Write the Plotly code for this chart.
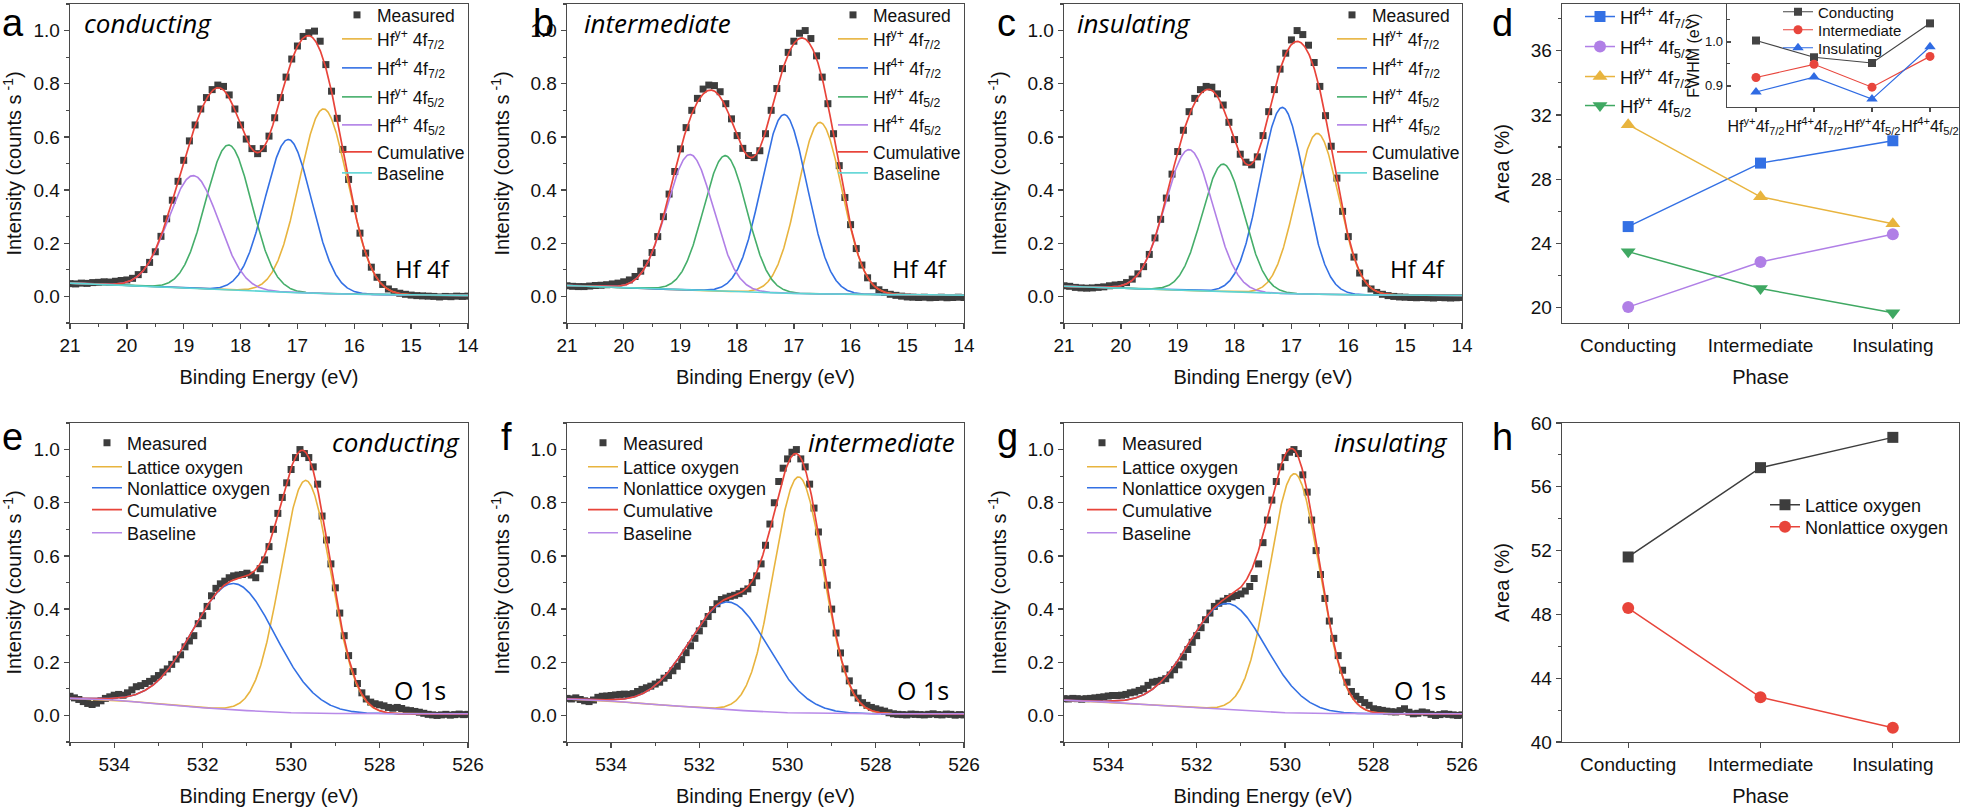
import numpy as np
import plotly.graph_objects as go

W, H = 1962, 808
FONT = "Arial, Liberation Sans, Helvetica, sans-serif"
AFONT = "Open Sans, Noto Sans, sans-serif"
AXC = "#4a4a4a"
TXT = "#111111"

# ------------------------------------------------------------------ data
hf_e = [21.0, 20.9, 20.8, 20.7, 20.6, 20.5, 20.4, 20.3, 20.2, 20.1,
        20.0, 19.9, 19.8, 19.7, 19.6, 19.5, 19.4, 19.3, 19.2, 19.1,
        19.0, 18.9, 18.8, 18.7, 18.6, 18.5, 18.4, 18.3, 18.2, 18.1,
        18.0, 17.9, 17.8, 17.7, 17.6, 17.5, 17.4, 17.3, 17.2, 17.1,
        17.0, 16.9, 16.8, 16.7, 16.6, 16.5, 16.4, 16.3, 16.2, 16.1,
        16.0, 15.9, 15.8, 15.7, 15.6, 15.5, 15.4, 15.3, 15.2, 15.1,
        15.0, 14.9, 14.8, 14.7, 14.6, 14.5, 14.4, 14.3, 14.2, 14.1, 14.0]

hf_meas_conducting = [
    0.048, 0.047, 0.050, 0.049, 0.052, 0.053, 0.055, 0.054, 0.057, 0.060,
    0.062, 0.068, 0.082, 0.101, 0.128, 0.168, 0.226, 0.292, 0.362, 0.433,
    0.512, 0.585, 0.645, 0.705, 0.748, 0.778, 0.795, 0.790, 0.758, 0.705,
    0.645, 0.592, 0.556, 0.537, 0.556, 0.603, 0.672, 0.748, 0.825, 0.893,
    0.942, 0.978, 0.992, 0.998, 0.960, 0.872, 0.772, 0.670, 0.553, 0.440,
    0.330, 0.238, 0.163, 0.110, 0.072, 0.045, 0.028, 0.018, 0.012, 0.008,
    0.005, 0.003, 0.002, 0.001, 0.000, -0.002, 0.000, -0.001, 0.001, 0.000, 0.001]
hf_meas_intermediate = [
    0.040, 0.038, 0.037, 0.037, 0.039, 0.041, 0.042, 0.044, 0.047, 0.050,
    0.055, 0.062, 0.075, 0.095, 0.125, 0.165, 0.225, 0.300, 0.385, 0.470,
    0.555, 0.635, 0.700, 0.745, 0.780, 0.795, 0.793, 0.770, 0.725, 0.668,
    0.605, 0.557, 0.530, 0.522, 0.548, 0.612, 0.700, 0.782, 0.857, 0.918,
    0.960, 0.990, 1.000, 0.970, 0.905, 0.825, 0.725, 0.612, 0.492, 0.372,
    0.270, 0.180, 0.118, 0.070, 0.040, 0.025, 0.015, 0.008, 0.004, 0.001,
    -0.002, -0.003, -0.004, -0.003, -0.005, -0.004, -0.003, -0.005, -0.004, -0.003, -0.004]
hf_meas_insulating = [
    0.040, 0.038, 0.034, 0.032, 0.031, 0.032, 0.034, 0.036, 0.040, 0.043,
    0.045, 0.052, 0.065, 0.085, 0.112, 0.158, 0.220, 0.290, 0.370, 0.460,
    0.545, 0.625, 0.695, 0.745, 0.778, 0.790, 0.787, 0.762, 0.720, 0.655,
    0.590, 0.535, 0.505, 0.495, 0.525, 0.605, 0.695, 0.778, 0.855, 0.915,
    0.965, 1.000, 0.985, 0.945, 0.880, 0.790, 0.680, 0.565, 0.445, 0.320,
    0.225, 0.148, 0.088, 0.050, 0.028, 0.015, 0.008, 0.003, 0.000, -0.002,
    -0.003, -0.004, -0.005, -0.004, -0.005, -0.006, -0.004, -0.005, -0.006, -0.005, -0.004]

# fitted Hf 4f components: order Hf^y+ 4f7/2, Hf^4+ 4f7/2, Hf^y+ 4f5/2, Hf^4+ 4f5/2
hf_comp_names = ["Hf<sup>y+</sup> 4f<sub>7/2</sub>", "Hf<sup>4+</sup> 4f<sub>7/2</sub>",
                 "Hf<sup>y+</sup> 4f<sub>5/2</sub>", "Hf<sup>4+</sup> 4f<sub>5/2</sub>"]
hf_center_conducting = [16.54, 17.16, 18.21, 18.83]
hf_center_intermediate = [16.54, 17.17, 18.21, 18.83]
hf_center_insulating = [16.545, 17.16, 18.20, 18.80]
hf_height_conducting = [0.694, 0.575, 0.545, 0.425]
hf_height_intermediate = [0.645, 0.672, 0.51, 0.51]
hf_height_insulating = [0.605, 0.70, 0.48, 0.53]
hf_base_e = [21, 20, 19, 18, 17, 16, 15, 14]
hf_base_conducting = [0.050, 0.041, 0.031, 0.023, 0.014, 0.008, 0.005, 0.004]
hf_base_intermediate = [0.041, 0.033, 0.025, 0.018, 0.011, 0.008, 0.006, 0.005]
hf_base_insulating = [0.038, 0.031, 0.024, 0.016, 0.010, 0.006, 0.005, 0.004]

# FWHM (eV) of each Hf 4f component (inset of panel d)
fwhm_peaks = ["Hf<sup>y+</sup>4f<sub>7/2</sub>", "Hf<sup>4+</sup>4f<sub>7/2</sub>",
              "Hf<sup>y+</sup>4f<sub>5/2</sub>", "Hf<sup>4+</sup>4f<sub>5/2</sub>"]
fwhm_conducting = [1.003, 0.965, 0.952, 1.042]
fwhm_intermediate = [0.919, 0.949, 0.897, 0.967]
fwhm_insulating = [0.886, 0.920, 0.870, 0.989]

# Hf 4f component areas (panel d)
phases = ["Conducting", "Intermediate", "Insulating"]
area_hf4_72 = [25.05, 29.0, 30.39]
area_hf4_52 = [20.04, 22.85, 24.57]
area_hfy_72 = [31.39, 26.9, 25.23]
area_hfy_52 = [23.49, 21.2, 19.69]

o_e = [535.0, 534.9, 534.8, 534.7, 534.6, 534.5, 534.4, 534.3, 534.2, 534.1,
       534.0, 533.9, 533.8, 533.7, 533.6, 533.5, 533.4, 533.3, 533.2, 533.1,
       533.0, 532.9, 532.8, 532.7, 532.6, 532.5, 532.4, 532.3, 532.2, 532.1,
       532.0, 531.9, 531.8, 531.7, 531.6, 531.5, 531.4, 531.3, 531.2, 531.1,
       531.0, 530.9, 530.8, 530.7, 530.6, 530.5, 530.4, 530.3, 530.2, 530.1,
       530.0, 529.9, 529.8, 529.7, 529.6, 529.5, 529.4, 529.3, 529.2, 529.1,
       529.0, 528.9, 528.8, 528.7, 528.6, 528.5, 528.4, 528.3, 528.2, 528.1,
       528.0, 527.9, 527.8, 527.7, 527.6, 527.5, 527.4, 527.3, 527.2, 527.1,
       527.0, 526.9, 526.8, 526.7, 526.6, 526.5, 526.4, 526.3, 526.2, 526.1, 526.0]

o_meas_conducting = [
    0.072, 0.066, 0.060, 0.052, 0.045, 0.041, 0.046, 0.055, 0.064, 0.070,
    0.076, 0.079, 0.076, 0.085, 0.096, 0.108, 0.112, 0.120, 0.128, 0.138,
    0.150, 0.163, 0.175, 0.192, 0.212, 0.228, 0.258, 0.280, 0.300, 0.345,
    0.375, 0.410, 0.450, 0.478, 0.495, 0.505, 0.518, 0.525, 0.528, 0.530,
    0.535, 0.528, 0.518, 0.552, 0.585, 0.635, 0.700, 0.760, 0.820, 0.875,
    0.925, 0.970, 1.000, 0.985, 0.970, 0.935, 0.870, 0.750, 0.660, 0.570,
    0.480, 0.385, 0.300, 0.225, 0.165, 0.120, 0.085, 0.062, 0.050, 0.044,
    0.040, 0.036, 0.030, 0.027, 0.030, 0.026, 0.020, 0.018, 0.015, 0.012,
    0.008, 0.004, 0.002, 0.000, 0.002, 0.004, 0.001, 0.003, 0.005, 0.003, 0.004]
o_meas_intermediate = [
    0.064, 0.062, 0.066, 0.060, 0.055, 0.052, 0.058, 0.068, 0.072, 0.073,
    0.075, 0.077, 0.079, 0.080, 0.079, 0.082, 0.090, 0.098, 0.104, 0.110,
    0.118, 0.125, 0.140, 0.150, 0.168, 0.185, 0.210, 0.236, 0.262, 0.290,
    0.318, 0.345, 0.372, 0.398, 0.420, 0.436, 0.442, 0.448, 0.452, 0.458,
    0.467, 0.476, 0.500, 0.525, 0.570, 0.640, 0.720, 0.800, 0.880, 0.930,
    0.965, 0.990, 1.000, 0.965, 0.935, 0.870, 0.780, 0.690, 0.575, 0.490,
    0.400, 0.310, 0.235, 0.175, 0.130, 0.085, 0.065, 0.048, 0.038, 0.030,
    0.025, 0.020, 0.016, 0.010, 0.006, 0.004, 0.003, 0.002, 0.005, 0.004,
    0.003, 0.002, 0.004, 0.006, 0.003, 0.002, 0.005, 0.004, 0.001, 0.003, 0.002]
o_meas_insulating = [
    0.063, 0.062, 0.064, 0.063, 0.061, 0.063, 0.064, 0.066, 0.068, 0.070,
    0.073, 0.075, 0.075, 0.076, 0.079, 0.085, 0.088, 0.094, 0.100, 0.113,
    0.125, 0.128, 0.132, 0.138, 0.152, 0.172, 0.190, 0.220, 0.248, 0.275,
    0.300, 0.330, 0.360, 0.385, 0.410, 0.422, 0.430, 0.440, 0.446, 0.451,
    0.457, 0.468, 0.485, 0.515, 0.570, 0.650, 0.735, 0.810, 0.880, 0.935,
    0.970, 0.990, 1.000, 0.985, 0.905, 0.840, 0.735, 0.620, 0.530, 0.440,
    0.355, 0.290, 0.225, 0.170, 0.125, 0.090, 0.072, 0.060, 0.048, 0.038,
    0.025, 0.022, 0.019, 0.016, 0.014, 0.013, 0.018, 0.025, 0.012, 0.006,
    0.008, 0.013, 0.010, 0.004, 0.000, 0.003, 0.006, 0.004, 0.002, 0.000, 0.002]

# fitted O 1s components: order lattice, nonlattice
o_comp_names = ["Lattice oxygen", "Nonlattice oxygen"]
o_center_conducting = [529.67, 531.29]
o_center_intermediate = [529.75, 531.34]
o_center_insulating = [529.79, 531.30]
o_height_conducting = [0.875, 0.475]
o_height_intermediate = [0.888, 0.405]
o_height_insulating = [0.90, 0.40]
o_fwhm_conducting = [1.33, 2.2]
o_fwhm_intermediate = [1.32, 2.1]
o_fwhm_insulating = [1.32, 2.05]
o_base_e = [535, 534, 533, 532, 531, 530, 529, 528, 527, 526]
o_base_conducting = [0.064, 0.058, 0.043, 0.029, 0.018, 0.010, 0.007, 0.006, 0.006, 0.006]
o_base_intermediate = [0.062, 0.054, 0.041, 0.029, 0.018, 0.010, 0.007, 0.006, 0.006, 0.006]
o_base_insulating = [0.057, 0.050, 0.039, 0.029, 0.018, 0.010, 0.007, 0.006, 0.006, 0.006]

# O 1s component areas (panel h)
area_lattice = [51.6, 57.2, 59.1]
area_nonlattice = [48.4, 42.8, 40.9]

# ------------------------------------------------------------------ styles
MEAS_C = "#3d3d3d"
ORANGE = "#E8B43E"
BLUE = "#3370E4"
GREEN = "#45AE6A"
PURPLE = "#B07FE6"
RED = "#E8443A"
CYAN = "#5CD5D5"
OPURPLE = "#B88AE8"
hf_comp_colors = [ORANGE, BLUE, GREEN, PURPLE]
o_comp_colors = [ORANGE, BLUE]

COLS = [(70, 468), (567, 964), (1064, 1462), (1562, 1959)]
ROWS = [(4, 323), (423, 742)]

layout = dict(width=W, height=H, margin=dict(l=0, r=0, t=0, b=0, pad=0, autoexpand=False),
              paper_bgcolor="white", plot_bgcolor="white",
              font=dict(family=FONT, color=TXT), showlegend=True)

_leg = [0]


def new_legend(x_text, y_center, size):
    """one legend box per entry so every row sits where the reference puts it"""
    _leg[0] += 1
    k = _leg[0]
    name = "legend" if k == 1 else "legend%d" % k
    layout[name] = dict(x=(x_text - 40) / W, y=1 - y_center / H, xanchor="left",
                        yanchor="middle", bgcolor="rgba(0,0,0,0)", borderwidth=0,
                        font=dict(family=FONT, size=size, color=TXT))
    return name


def xdom(c):
    return [COLS[c][0] / W, COLS[c][1] / W]


def ydom(r):
    return [1 - ROWS[r][1] / H, 1 - ROWS[r][0] / H]


def peak(e, c, h, w):
    s = w / 2.3548
    return h * np.exp(-0.5 * ((e - c) / s) ** 2)


fig = go.Figure()


def add_spectrum(idx, leg_x, leg_rows, leg_size, e_meas, meas, names, colors, centers,
                 heights, widths, base_e, base, base_color, e_lo, e_hi):
    xa = "x" if idx == 1 else "x%d" % idx
    ya = "y" if idx == 1 else "y%d" % idx
    rows = iter(leg_rows)
    fine = np.linspace(e_hi, e_lo, 901)
    bfine = np.interp(fine[::-1], base_e[::-1], base[::-1])[::-1]
    fig.add_trace(go.Scatter(x=e_meas, y=meas, mode="markers", name="Measured",
                             marker=dict(symbol="square", size=7, color=MEAS_C),
                             legend=new_legend(leg_x, next(rows), leg_size),
                             xaxis=xa, yaxis=ya))
    total = bfine.copy()
    for n, col, c, h, w in zip(names, colors, centers, heights, widths):
        comp = peak(fine, c, h, w)
        total = total + comp
        fig.add_trace(go.Scatter(x=fine, y=bfine + comp, mode="lines", name=n,
                                 line=dict(color=col, width=1.6),
                                 legend=new_legend(leg_x, next(rows), leg_size),
                                 xaxis=xa, yaxis=ya))
    fig.add_trace(go.Scatter(x=fine, y=total, mode="lines", name="Cumulative",
                             line=dict(color=RED, width=1.7),
                             legend=new_legend(leg_x, next(rows), leg_size),
                             xaxis=xa, yaxis=ya))
    fig.add_trace(go.Scatter(x=base_e, y=base, mode="lines", name="Baseline",
                             line=dict(color=base_color, width=1.6),
                             legend=new_legend(leg_x, next(rows), leg_size),
                             xaxis=xa, yaxis=ya))


HF_ROWS = [15, 39, 68, 97, 125, 152, 173]
O_ROWS = [443, 467, 488, 510, 533]
add_spectrum(1, 377, HF_ROWS, 17.5, hf_e, hf_meas_conducting, hf_comp_names, hf_comp_colors,
             hf_center_conducting, hf_height_conducting, fwhm_conducting,
             hf_base_e, hf_base_conducting, CYAN, 14, 21)
add_spectrum(2, 873, HF_ROWS, 17.5, hf_e, hf_meas_intermediate, hf_comp_names, hf_comp_colors,
             hf_center_intermediate, hf_height_intermediate, fwhm_intermediate,
             hf_base_e, hf_base_intermediate, CYAN, 14, 21)
add_spectrum(3, 1372, HF_ROWS, 17.5, hf_e, hf_meas_insulating, hf_comp_names, hf_comp_colors,
             hf_center_insulating, hf_height_insulating, fwhm_insulating,
             hf_base_e, hf_base_insulating, CYAN, 14, 21)
add_spectrum(6, 127, O_ROWS, 18, o_e, o_meas_conducting, o_comp_names, o_comp_colors,
             o_center_conducting, o_height_conducting, o_fwhm_conducting,
             o_base_e, o_base_conducting, OPURPLE, 526, 535)
add_spectrum(7, 623, O_ROWS, 18, o_e, o_meas_intermediate, o_comp_names, o_comp_colors,
             o_center_intermediate, o_height_intermediate, o_fwhm_intermediate,
             o_base_e, o_base_intermediate, OPURPLE, 526, 535)
add_spectrum(8, 1122, O_ROWS, 18, o_e, o_meas_insulating, o_comp_names, o_comp_colors,
             o_center_insulating, o_height_insulating, o_fwhm_insulating,
             o_base_e, o_base_insulating, OPURPLE, 526, 535)

# panel d
d_series = [
    ("Hf<sup>4+</sup> 4f<sub>7/2</sub>", area_hf4_72, BLUE, "square", 11, 17),
    ("Hf<sup>4+</sup> 4f<sub>5/2</sub>", area_hf4_52, PURPLE, "circle", 12, 47),
    ("Hf<sup>y+</sup> 4f<sub>7/2</sub>", area_hfy_72, ORANGE, "triangle-up", 13, 77),
    ("Hf<sup>y+</sup> 4f<sub>5/2</sub>", area_hfy_52, "#3FA862", "triangle-down", 13, 106),
]
for n, vals, col, sym, sz, row in d_series:
    fig.add_trace(go.Scatter(x=phases, y=vals, mode="lines+markers", name=n,
                             line=dict(color=col, width=1.5),
                             marker=dict(symbol=sym, size=sz, color=col),
                             legend=new_legend(1620, row, 18.5), xaxis="x4", yaxis="y4"))

# inset of panel d
inset_series = [
    ("Conducting", fwhm_conducting, "#444444", "square", 8, 12),
    ("Intermediate", fwhm_intermediate, "#E8453C", "circle", 9, 30),
    ("Insulating", fwhm_insulating, "#2F6BE3", "triangle-up", 10, 48),
]
for n, vals, col, sym, sz, row in inset_series:
    fig.add_trace(go.Scatter(x=fwhm_peaks, y=vals, mode="lines+markers", name=n,
                             line=dict(color=col, width=1.2),
                             marker=dict(symbol=sym, size=sz, color=col),
                             legend=new_legend(1818, row, 15), xaxis="x5", yaxis="y5"))

# panel h
fig.add_trace(go.Scatter(x=phases, y=area_lattice, mode="lines+markers", name="Lattice oxygen",
                         line=dict(color="#3d3d3d", width=1.5),
                         marker=dict(symbol="square", size=11, color="#3d3d3d"),
                         legend=new_legend(1805, 505, 18), xaxis="x9", yaxis="y9"))
fig.add_trace(go.Scatter(x=phases, y=area_nonlattice, mode="lines+markers", name="Nonlattice oxygen",
                         line=dict(color=RED, width=1.5),
                         marker=dict(symbol="circle", size=12, color=RED),
                         legend=new_legend(1805, 527, 18), xaxis="x9", yaxis="y9"))


# ------------------------------------------------------------------ axes
def axis(domain, anchor, title=None, tsize=20, fsize=19, minor=None, mticks="outside", **kw):
    d = dict(domain=domain, anchor=anchor, showline=True, mirror=True, linecolor=AXC,
             linewidth=1.3, ticks="outside", ticklen=5, tickwidth=1.3, tickcolor=AXC,
             showgrid=False, zeroline=False, fixedrange=True, automargin=False,
             tickfont=dict(family=FONT, size=fsize, color=TXT))
    if minor is not None:
        d["minor"] = dict(dtick=minor, ticks=mticks, ticklen=3, tickwidth=1.1,
                          tickcolor=AXC, showgrid=False)
    if title:
        d["title"] = dict(text=title, font=dict(family=FONT, size=tsize, color=TXT))
    d.update(kw)
    return d


ytitle = "Intensity (counts s<sup> -1</sup>)"
spec_panels = [(1, 0, 0, "hf"), (2, 1, 0, "hf"), (3, 2, 0, "hf"),
               (6, 0, 1, "o"), (7, 1, 1, "o"), (8, 2, 1, "o")]
for idx, c, r, kind in spec_panels:
    xk = "xaxis" if idx == 1 else "xaxis%d" % idx
    yk = "yaxis" if idx == 1 else "yaxis%d" % idx
    xa = "x" if idx == 1 else "x%d" % idx
    ya = "y" if idx == 1 else "y%d" % idx
    if kind == "hf":
        layout[xk] = axis(xdom(c), ya, "Binding Energy (eV)", range=[21, 14],
                          dtick=1, tick0=14, minor=0.5)
    else:
        layout[xk] = axis(xdom(c), ya, "Binding Energy (eV)", range=[535, 526],
                          dtick=2, tick0=526, minor=1)
    layout[yk] = axis(ydom(r), xa, ytitle, range=[-0.1, 1.1], dtick=0.2, tick0=0,
                      tickformat=".1f", minor=0.1)

layout["xaxis4"] = axis(xdom(3), "y4", "Phase", type="category", range=[-0.5, 2.5])
layout["yaxis4"] = axis(ydom(0), "x4", "Area (%)", range=[19.05, 38.9], dtick=4, tick0=20, minor=2)
layout["xaxis9"] = axis(xdom(3), "y9", "Phase", type="category", range=[-0.5, 2.5])
layout["yaxis9"] = axis(ydom(1), "x9", "Area (%)", range=[40, 60], dtick=4, tick0=40, minor=2)
layout["xaxis5"] = axis([1727 / W, 1959 / W], "y5", None, fsize=16, type="category",
                        range=[-0.5, 3.5], ticklen=4, tickangle=0)
layout["yaxis5"] = axis([1 - 107 / H, 1 - 4 / H], "x5", "FWHM (eV)", tsize=16, fsize=13,
                        range=[0.852, 1.086], dtick=0.1, tick0=0.9, tickformat=".1f",
                        minor=0.05, mticks="inside", ticks="inside", ticklen=4)
layout["yaxis5"]["title"]["standoff"] = 1

ann = []


def text(xp, yp, s, size, family=FONT, xanchor="center", yanchor="middle", italic=False):
    ann.append(dict(x=xp / W, y=1 - yp / H, xref="paper", yref="paper", text=s,
                    showarrow=False, xanchor=xanchor, yanchor=yanchor,
                    font=dict(family=family, size=size, color="#000000",
                              style="italic" if italic else "normal")))


# panel letters (left edge, top of text box)
for lab, xp, yp in [("a", 0, 0), ("b", 531, 0), ("c", 995, 0), ("d", 1490, 0),
                    ("e", 0, 414), ("f", 499, 414), ("g", 995, 414), ("h", 1490, 414)]:
    text(xp, yp, lab, 38, FONT, "left", "top")

text(82, 23, "conducting", 26, AFONT, "left", italic=True)
text(582, 23, "intermediate", 26, AFONT, "left", italic=True)
text(1075, 23, "insulating", 26, AFONT, "left", italic=True)
text(462, 442, "conducting", 26, AFONT, "right", italic=True)
text(957, 442, "intermediate", 26, AFONT, "right", italic=True)
text(1450, 442, "insulating", 26, AFONT, "right", italic=True)
for xp in (393, 890, 1388):
    text(xp, 268, "Hf 4f", 24, AFONT, "left")
for xp in (392, 895, 1392):
    text(xp, 690, "O 1s", 25, AFONT, "left")

layout["annotations"] = ann
fig.update_layout(**layout)
fig.write_html("out.html", config={"displayModeBar": False, "staticPlot": True},
               post_script="document.body.style.margin='0px';"
                           "document.body.style.overflow='hidden';")
